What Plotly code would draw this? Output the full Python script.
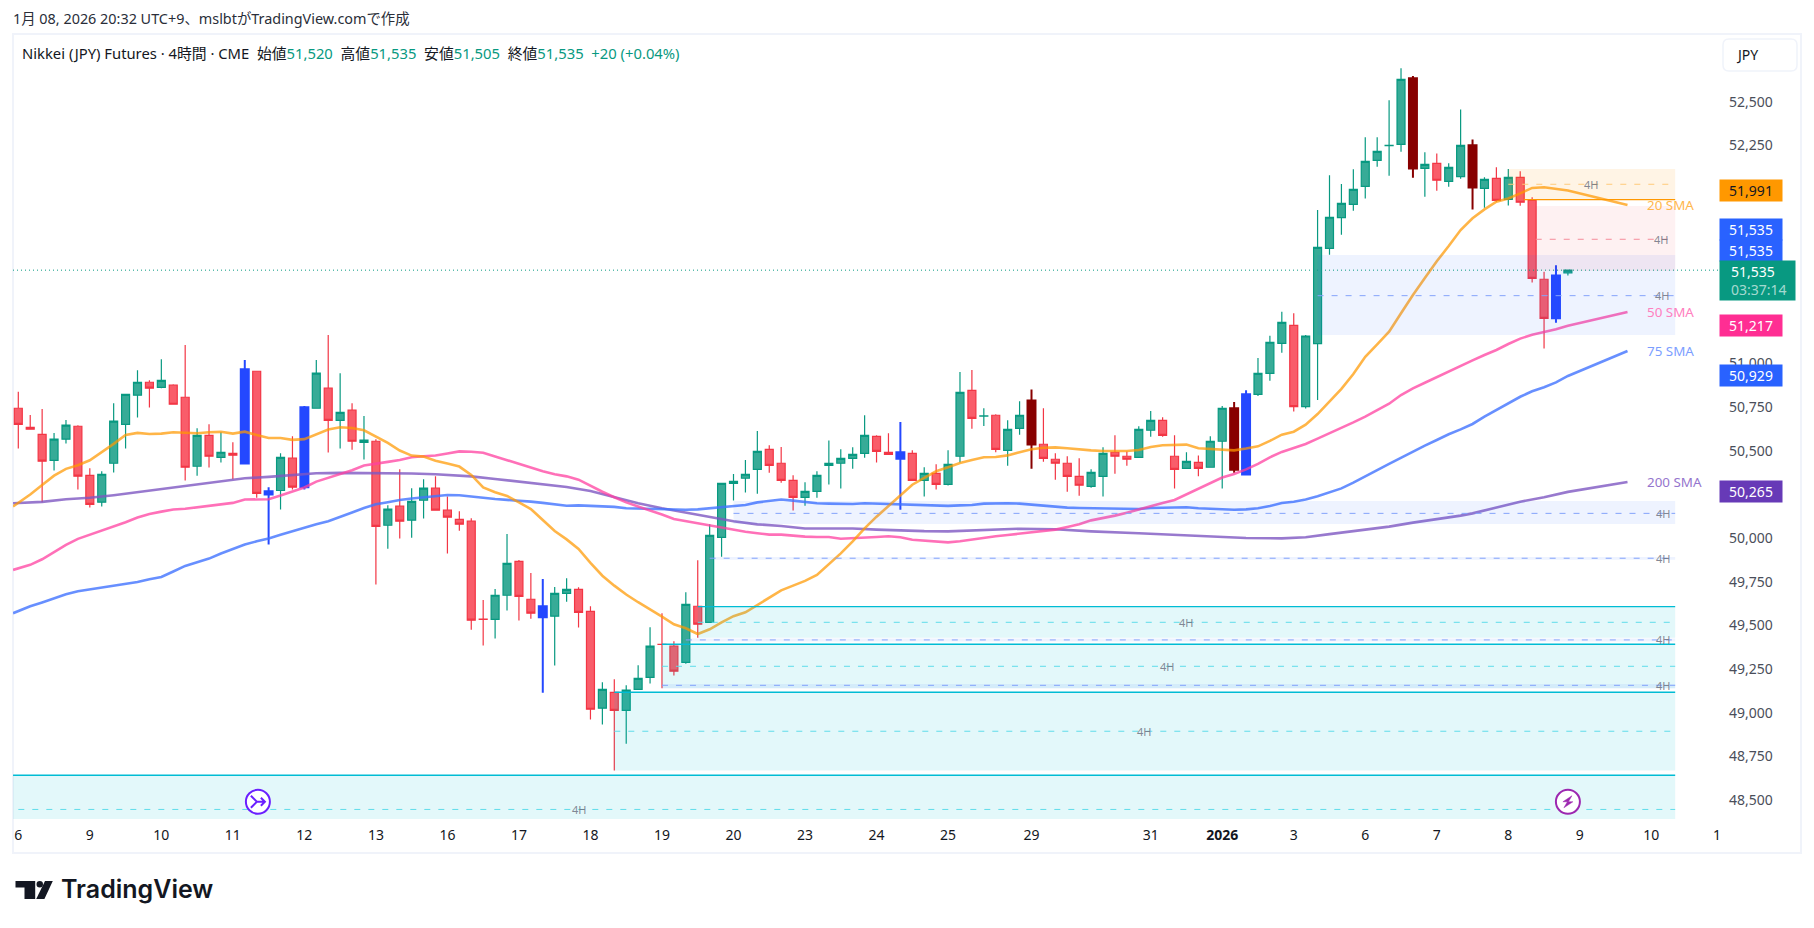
import plotly.graph_objects as go

W, H = 1814, 928
PL, PR, PT, PB = 13, 1720, 35, 819

OPEN = [50744,50635,50595,50446,50567,50641,50360,50206,50429,50652,50819,50893,50864,50876,50807,50412,50589,50463,50486,50427,
        50956,50250,50273,50458,50292,50744,50859,50675,50733,50549,50555,50074,50183,50103,50217,50286,50160,50108,50097,49536,
        49535,49673,49867,49650,49610,49553,49684,49707,49581,49026,49117,49014,49134,49203,49392,49381,49289,49610,49518,50005,
        50314,50343,50394,50509,50429,50331,50234,50268,50417,50429,50457,50486,50583,50492,50492,50486,50331,50371,50308,50469,
        50847,50699,50704,50503,50629,50789,50538,50452,50429,50354,50297,50354,50492,50469,50463,50618,50675,50469,50400,50434,
        50406,50555,50744,50364,50824,50944,51116,51219,50753,51114,51660,51836,51912,52015,52164,52248,52256,52634,52118,52147,
        52044,52071,52250,52004,52061,51941,52067,51935,51483,51259,51520]
HIGH = [50838,50706,50740,50603,50677,50647,50400,50383,50773,50824,50962,50904,51025,50882,51107,50630,50652,50607,50549,51021,
        50956,50292,50486,50584,50757,51021,51164,50945,50773,50700,50567,50189,50395,50286,50337,50355,50238,50154,50114,49646,
        49709,50024,49875,49801,49766,49720,49770,49719,49610,49174,49192,49157,49272,49490,49570,49409,49690,49873,50079,50314,
        50368,50448,50614,50532,50522,50360,50320,50383,50560,50509,50520,50704,50589,50601,50665,50503,50406,50423,50503,50952,
        50963,50744,50709,50675,50784,50852,50744,50486,50469,50457,50394,50520,50589,50497,50641,50728,50692,50589,50492,50474,
        50583,50757,50780,50847,51032,51160,51297,51288,51164,51880,52078,52029,52113,52296,52296,52508,52691,52647,52210,52204,
        52147,52456,52284,52067,52124,52114,52101,51952,51526,51563,51535]
LOW = [50513,50624,50206,50387,50542,50278,50175,50181,50376,50513,50691,50748,50859,50767,50330,50358,50404,50433,50337,50427,
       50232,49963,50164,50278,50278,50744,50490,50513,50507,50450,49734,49940,49998,50003,50112,50160,49912,50043,49476,49385,
       49425,49585,49528,49539,49115,49270,49636,49488,48961,48932,48669,48823,49134,49167,49140,49213,49281,49430,49518,49894,
       50215,50261,50255,50375,50318,50158,50186,50232,50307,50284,50398,50461,50433,50480,50163,50331,50238,50278,50301,50434,
       50627,50642,50492,50415,50593,50398,50438,50335,50266,50243,50289,50238,50369,50415,50463,50581,50581,50284,50400,50354,
       50406,50285,50375,50364,50814,50902,51062,50725,50742,50791,51624,51738,51876,51945,52128,52076,52214,52065,51956,51990,
       52013,52059,51882,51893,51927,51906,51904,51465,51087,51234,51505]
CLOSE = [50652,50624,50441,50567,50647,50355,50194,50366,50670,50824,50893,50859,50904,50767,50406,50589,50469,50492,50475,50967,
         50257,50269,50463,50292,50750,50945,50675,50721,50555,50561,50068,50166,50097,50211,50286,50160,50120,50080,49530,49535,
         49673,49856,49667,49570,49547,49684,49707,49575,49020,49134,49014,49129,49197,49381,49391,49238,49621,49507,50016,50314,
         50326,50366,50497,50417,50331,50234,50268,50360,50429,50457,50480,50589,50497,50480,50455,50331,50371,50308,50423,50835,
         50686,50700,50509,50623,50704,50536,50457,50429,50354,50303,50377,50486,50469,50452,50623,50675,50589,50394,50440,50400,
         50555,50744,50392,50824,50944,51122,51236,50753,51158,51666,51838,51918,51998,52158,52216,52250,52628,52118,52141,52050,
         52124,52250,52009,52055,51935,52067,51924,51488,51259,51505,51535]
KIND = ("r r r g g r r g g g  g r g r r g r g r b  r b g r b g r g r g  r g r g g r r r r r  "
        "g g r r b g g r r g  r g g g r r g r g g  g g g r r r g g g g  g g r r b r g r g g  "
        "r g r g g d r r r r  g g r r g g r r g r  g g d b g g g r g g  g g g g g g g d g r  "
        "g g d g r g r r r b  g").split()

TICK_POS = [0,6,12,18,24,30,36,42,48,54,60,66,72,78,85,95,101,107,113,119,125,131,137,142.5]
TICK_TEXT = ["6","9","10","11","12","13","16","17","18","19","20","23","24","25","29","31","<b>2026</b>","3","6","7","8","9","10","1"]
PRICE_TICKS = list(range(48500, 52750, 250))

SMA20_X = [-0.44] + list(range(1, 131)) + [135]
SMA20 = [50181,50250,50305,50358,50397,50418,50446,50492,50540,50591,50603,50597,50599,50607,50603,50601,50607,50609,50599,50610,
         50591,50574,50574,50563,50567,50595,50622,50635,50631,50618,50582,50546,50502,50473,50467,50444,50427,50410,50362,50291,
         50263,50242,50205,50167,50104,50041,49993,49938,49858,49785,49728,49677,49633,49593,49551,49507,49484,49451,49478,49518,
         49553,49575,49617,49661,49701,49728,49755,49789,49850,49913,49982,50056,50123,50184,50249,50306,50345,50383,50406,50431,
         50448,50463,50465,50474,50492,50509,50518,50520,50515,50507,50503,50499,50499,50499,50505,50522,50532,50536,50536,50515,
         50511,50509,50503,50513,50526,50557,50593,50610,50650,50711,50785,50855,50940,51039,51110,51183,51288,51393,51490,51586,
         51673,51765,51832,51883,51927,51946,51975,52006,52010,52002,51991,51908]
SMA50_X = SMA20_X
SMA50 = [49818,49847,49879,49920,49961,49996,50019,50045,50066,50091,50118,50139,50152,50164,50168,50177,50183,50192,50202,50221,
         50221,50223,50244,50265,50290,50324,50345,50368,50389,50416,50425,50437,50448,50463,50469,50473,50485,50497,50495,50489,
         50468,50446,50423,50402,50383,50366,50354,50335,50299,50266,50234,50205,50181,50160,50135,50110,50098,50083,50070,50060,
         50047,50037,50028,50020,50020,50013,50009,50007,50007,49997,49999,50005,50007,50011,50005,49991,49986,49977,49976,49982,
         49993,50003,50011,50018,50026,50034,50041,50049,50064,50080,50102,50114,50129,50146,50163,50182,50201,50219,50251,50282,
         50312,50347,50368,50394,50425,50463,50494,50518,50539,50570,50600,50632,50663,50696,50732,50770,50820,50858,50890,50923,
         50955,50988,51018,51049,51078,51112,51143,51165,51181,51196,51217,51295]
SMA75_X = SMA20_X
SMA75 = [49570,49610,49632,49655,49679,49696,49707,49719,49730,49738,49749,49765,49778,49809,49841,49862,49883,49912,49937,49963,
         49982,49998,50019,50040,50061,50080,50097,50120,50147,50173,50194,50206,50219,50227,50234,50242,50247,50246,50238,50229,
         50224,50219,50215,50209,50202,50196,50186,50188,50186,50184,50179,50171,50169,50165,50163,50161,50163,50165,50171,50179,
         50181,50190,50205,50215,50221,50215,50207,50200,50198,50196,50196,50200,50198,50196,50192,50189,50187,50186,50185,50188,
         50190,50198,50200,50200,50198,50192,50186,50179,50175,50173,50172,50171,50170,50168,50167,50173,50174,50175,50177,50171,
         50167,50167,50163,50165,50171,50184,50201,50209,50221,50240,50262,50285,50318,50352,50390,50425,50461,50495,50530,50562,
         50595,50623,50654,50696,50734,50772,50810,50841,50864,50892,50929,51072]
SMA200_X = [-0.44,2,4,6,8,10,12,14,16,18,19,21,23,25,27,29,31,33,35,37,38,40,42,44,46,48,50,52,54,56,58,60,62,64,66,68,70,72,74,76,78,
            81,84,87,90,94,97,100,103,106,108,110,112,115,117,119,121,122,124,126,128,130,135]
SMA200 = [50200,50208,50223,50231,50246,50263,50282,50297,50315,50332,50343,50351,50360,50372,50374,50374,50370,50370,50366,50360,50354,
          50339,50324,50310,50293,50270,50234,50200,50171,50146,50118,50097,50079,50070,50055,50056,50055,50049,50044,50040,50039,
          50047,50054,50051,50039,50028,50018,50009,50001,49999,50005,50023,50041,50066,50089,50108,50129,50142,50177,50209,50234,50265,50322]

ZONE_KIND = ["c","c","c","c","b","b","b","b","b","o","r"]
ZONE_X0 = [-0.44,50,54,57,109,60,58,56,54,125,127.3]
ZONE_TOP = [48642,49117,49392,49608,51622,50213,49892,49425,49165,52114,51903]
ZONE_MID = [48446,48894,49266,49518,51389,50142,49885,49417,49157,52027,51712]
ZONE_BOT = [48391,48669,49140,49430,51164,50081,49877,49408,49140,51939,51530]
ZONE_LABEL_X = [47,94.4,96.4,98,137.9,138,138,138,138,131.9,137.8]
ZONE_END = 139

LAST_PRICE = 51535
TAG_20, TAG_50, TAG_75, TAG_200 = 51991, 51217, 50929, 50265
SIGNAL_X = [20.1, 130]
SIGNAL_Y = 48490

def fx(p): return (p - PL) / (PR - PL)
def fy(p): return (PB - p) / (PB - PT)

XR = [(PL - 18.3) / 11.92, (PR - 18.3) / 11.92]
YR = [52500 - (PB - 101.7) * 5.728, 52500 + (101.7 - PT) * 5.728]

FONT = "Noto Sans, Noto Sans CJK JP, sans-serif"
fig = go.Figure()

STY = {
    "g": ("#089981", "#37ab97", 1.2),
    "r": ("#f23645", "#f95d6a", 1.2),
    "b": ("#2448ff", "#2448ff", 2),
    "d": ("#880000", "#880000", 2),
}
for k, (ln, fl, lw) in STY.items():
    idx = [i for i, c in enumerate(KIND) if c == k]
    s = dict(line=dict(color=ln, width=lw), fillcolor=fl)
    fig.add_trace(go.Candlestick(
        x=idx, open=[OPEN[i] for i in idx], high=[HIGH[i] for i in idx],
        low=[LOW[i] for i in idx], close=[CLOSE[i] for i in idx],
        increasing=s, decreasing=s, whiskerwidth=0, showlegend=False, hoverinfo="skip"))

for xs, ys, col in [(SMA200_X, SMA200, "rgba(126,87,194,0.8)"), (SMA75_X, SMA75, "rgba(65,115,255,0.8)"),
                    (SMA50_X, SMA50, "rgba(255,64,160,0.75)"), (SMA20_X, SMA20, "rgba(255,152,0,0.72)")]:
    fig.add_trace(go.Scatter(x=xs, y=ys, mode="lines", line=dict(color=col, width=2.6),
                             showlegend=False, hoverinfo="skip"))

shapes, ann = [], []
ZSTY = {
    "c": ("rgba(0,188,212,0.11)", "#5fdcea"),
    "b": ("rgba(41,98,255,0.08)", "#84a3fb"),
    "o": ("rgba(255,152,0,0.10)", "#ffca7a"),
    "r": ("rgba(242,54,69,0.07)", "#f58c9a"),
}
for kd, x0, t, m, b, lx in zip(ZONE_KIND, ZONE_X0, ZONE_TOP, ZONE_MID, ZONE_BOT, ZONE_LABEL_X):
    fill, dash = ZSTY[kd]
    shapes.append(dict(type="rect", x0=x0, x1=ZONE_END, y0=b, y1=t, xref="x", yref="y",
                       fillcolor=fill, line_width=0, layer="above"))
    shapes.append(dict(type="line", x0=max(x0, 0), x1=ZONE_END, y0=m, y1=m, xref="x", yref="y",
                       line=dict(color=dash, width=1, dash="6px,8px"), layer="above"))
    if kd == "c":
        shapes.append(dict(type="line", x0=x0, x1=ZONE_END, y0=t, y1=t, xref="x", yref="y",
                           line=dict(color="#00bcd4", width=1.4), layer="above"))
    if kd == "o":
        shapes.append(dict(type="line", x0=x0 + 1.3, x1=ZONE_END, y0=b, y1=b, xref="x", yref="y",
                           line=dict(color="#ff9800", width=1.4), layer="above"))
    ann.append(dict(x=lx, y=m, xref="x", yref="y", text="4H", showarrow=False,
                    font=dict(family=FONT, size=11, color="rgba(110,115,130,0.85)")))

shapes.append(dict(type="line", x0=XR[0], x1=XR[1], y0=LAST_PRICE, y1=LAST_PRICE, xref="x", yref="y",
                   line=dict(color="#089981", width=1, dash="1px,3px"), layer="above"))

# frame and currency button
shapes.append(dict(type="rect", xref="paper", yref="paper", x0=fx(13), x1=fx(1801), y0=fy(853), y1=fy(34),
                   line=dict(color="#f0f3fa", width=2), fillcolor="rgba(0,0,0,0)", layer="below"))
a, b, c, d = fx(1723), fx(1797), fy(39), fy(71)
shapes.append(dict(type="path", xref="paper", yref="paper", layer="above", fillcolor="white",
                   line=dict(color="#f0f3fa", width=1.5),
                   path=f"M {fx(1729)} {c} L {fx(1791)} {c} Q {b} {c} {b} {fy(45)} L {b} {fy(65)} Q {b} {d} {fx(1791)} {d} "
                        f"L {fx(1729)} {d} Q {a} {d} {a} {fy(65)} L {a} {fy(45)} Q {a} {c} {fx(1729)} {c} Z"))

# event icons
for xv, col in zip(SIGNAL_X, ["#6a1fff", "#9c27b0"]):
    shapes.append(dict(type="circle", xref="x", yref="y", xsizemode="pixel", ysizemode="pixel",
                       xanchor=xv, yanchor=SIGNAL_Y, x0=-12, x1=12, y0=-12, y1=12,
                       fillcolor="white", line=dict(color=col, width=2), layer="above"))
shapes.append(dict(type="path", xref="x", yref="y", xsizemode="pixel", ysizemode="pixel",
                   xanchor=SIGNAL_X[0], yanchor=SIGNAL_Y, layer="above",
                   path="M -7 6 L -1 0 L -7 -6 M -1 0 L 7 0 M 3 4 L 7 0 L 3 -4",
                   line=dict(color="#6a1fff", width=2)))
shapes.append(dict(type="path", xref="x", yref="y", xsizemode="pixel", ysizemode="pixel",
                   xanchor=SIGNAL_X[1], yanchor=SIGNAL_Y, layer="above",
                   path="M 4 6 L -5 0 L -0.5 0 L -4 -6 L 5 0 L 0.5 0 Z",
                   fillcolor="#9c27b0", line=dict(color="#9c27b0", width=0.5)))

# brand mark
def poly(pts):
    return "M " + " L ".join(f"{fx(x)} {fy(y)}" for x, y in pts) + " Z"
shapes.append(dict(type="path", xref="paper", yref="paper", fillcolor="#131722", line_width=0, layer="above",
                   path=poly([(15.5,881),(35.2,881),(35.2,899),(24.5,899),(24.5,887.5),(15.5,887.5)])))
shapes.append(dict(type="path", xref="paper", yref="paper", fillcolor="#131722", line_width=0, layer="above",
                   path=poly([(45,881),(52.8,881),(44.4,899),(36.2,899)])))
shapes.append(dict(type="circle", xref="paper", yref="paper", fillcolor="#131722", line_width=0, layer="above",
                   x0=fx(36.5), x1=fx(43), y0=fy(887.5), y1=fy(881)))

# price tags
def tag(y_val=None, y_px=None, text="", bg="#2962ff", fg="white", x0=1720, x1=1782, h=21, align="center"):
    d = dict(xref="paper", x=fx((x0 + x1) / 2), text=text, showarrow=False, bgcolor=bg, width=x1 - x0, height=h,
             font=dict(family=FONT, size=14, color=fg), borderpad=0, align=align, valign="middle")
    if y_val is not None:
        d.update(y=y_val, yref="y")
    else:
        d.update(y=fy(y_px), yref="paper")
    ann.append(d)

PAD = "&nbsp;&nbsp;&nbsp;"
tag(y_val=TAG_20, text=f"{TAG_20:,}", bg="#ff9800", fg="#131722")
tag(y_px=229.7, text=f"{LAST_PRICE:,}", bg="#2962ff")
tag(y_px=250.5, text=f"{LAST_PRICE:,}", bg="#2962ff")
tag(y_px=280.5, text=f"{PAD}{LAST_PRICE:,}<br>{PAD}<span style='color:rgba(255,255,255,0.65)'>03:37:14</span>",
    bg="#089981", x1=1795, h=39, align="left")
tag(y_val=TAG_50, text=f"{TAG_50:,}", bg="#ff2e93")
tag(y_val=TAG_75, text=f"{TAG_75:,}", bg="#2962ff")
tag(y_val=TAG_200, text=f"{TAG_200:,}", bg="#673ab7")

for yv, t, col in [(SMA20[-1], "20 SMA", "#ffb74d"), (SMA50[-1], "50 SMA", "#ff80c0"),
                   (SMA75[-1], "75 SMA", "#7c9eff"), (SMA200[-1], "200 SMA", "#9575cd")]:
    ann.append(dict(x=136.5, y=yv, xref="x", yref="y", text=t, showarrow=False, xanchor="left",
                    font=dict(family=FONT, size=13.4, color=col)))

GR = "#089981"
ann.append(dict(xref="paper", yref="paper", x=fx(11), y=fy(19), xanchor="left", showarrow=False,
                text="1月 08, 2026 20:32 UTC+9、mslbtがTradingView.comで作成",
                font=dict(family=FONT, size=14.4, color="#2a2e39")))
def v(s): return f"<span style='color:{GR}'>{s}</span>"
ann.append(dict(xref="paper", yref="paper", x=fx(20), y=fy(53), xanchor="left", showarrow=False,
                text=f"Nikkei (JPY) Futures · 4時間 · CME&nbsp;&nbsp;始値{v('51,520')}&nbsp;&nbsp;高値{v('51,535')}"
                     f"&nbsp;&nbsp;安値{v('51,505')}&nbsp;&nbsp;終値{v('51,535')}&nbsp;&nbsp;{v('+20 (+0.04%)')}",
                font=dict(family=FONT, size=14.8, color="#131722")))
ann.append(dict(xref="paper", yref="paper", x=fx(1747), y=fy(54), showarrow=False, text="JPY",
                font=dict(family=FONT, size=14, color="#131722")))
ann.append(dict(xref="paper", yref="paper", x=fx(59), y=fy(889), xanchor="left", showarrow=False, text="TradingView",
                font=dict(family="Inter", size=25, color="#131722", weight=600)))

for item in ann:
    item.setdefault("xanchor", "center")
    item.setdefault("yanchor", "middle")

fig.update_layout(
    width=W, height=H, autosize=False, paper_bgcolor="white", plot_bgcolor="white",
    margin=dict(l=PL, r=W - PR, t=PT, b=H - PB, pad=0), showlegend=False, hovermode=False,
    boxmode="overlay", boxgap=0.33, boxgroupgap=0,
    font=dict(family=FONT), shapes=shapes, annotations=ann,
    xaxis=dict(type="linear", range=XR, rangeslider=dict(visible=False), showgrid=False, zeroline=False,
               showline=False, ticks="", tickmode="array", tickvals=TICK_POS, ticktext=TICK_TEXT,
               ticklabelstandoff=6, tickfont=dict(family=FONT, size=14, color="#131722")),
    yaxis=dict(range=YR, side="right", showgrid=False, zeroline=False, showline=False, ticks="",
               tickmode="array", tickvals=PRICE_TICKS, ticktext=[f"{p:,}" for p in PRICE_TICKS],
               ticklabelstandoff=8, tickfont=dict(family=FONT, size=14, color="#4a4e5a")),
)
fig.write_html("out.html", config=dict(displayModeBar=False),
               post_script="document.body.style.margin='0';document.body.style.overflow='hidden';")
